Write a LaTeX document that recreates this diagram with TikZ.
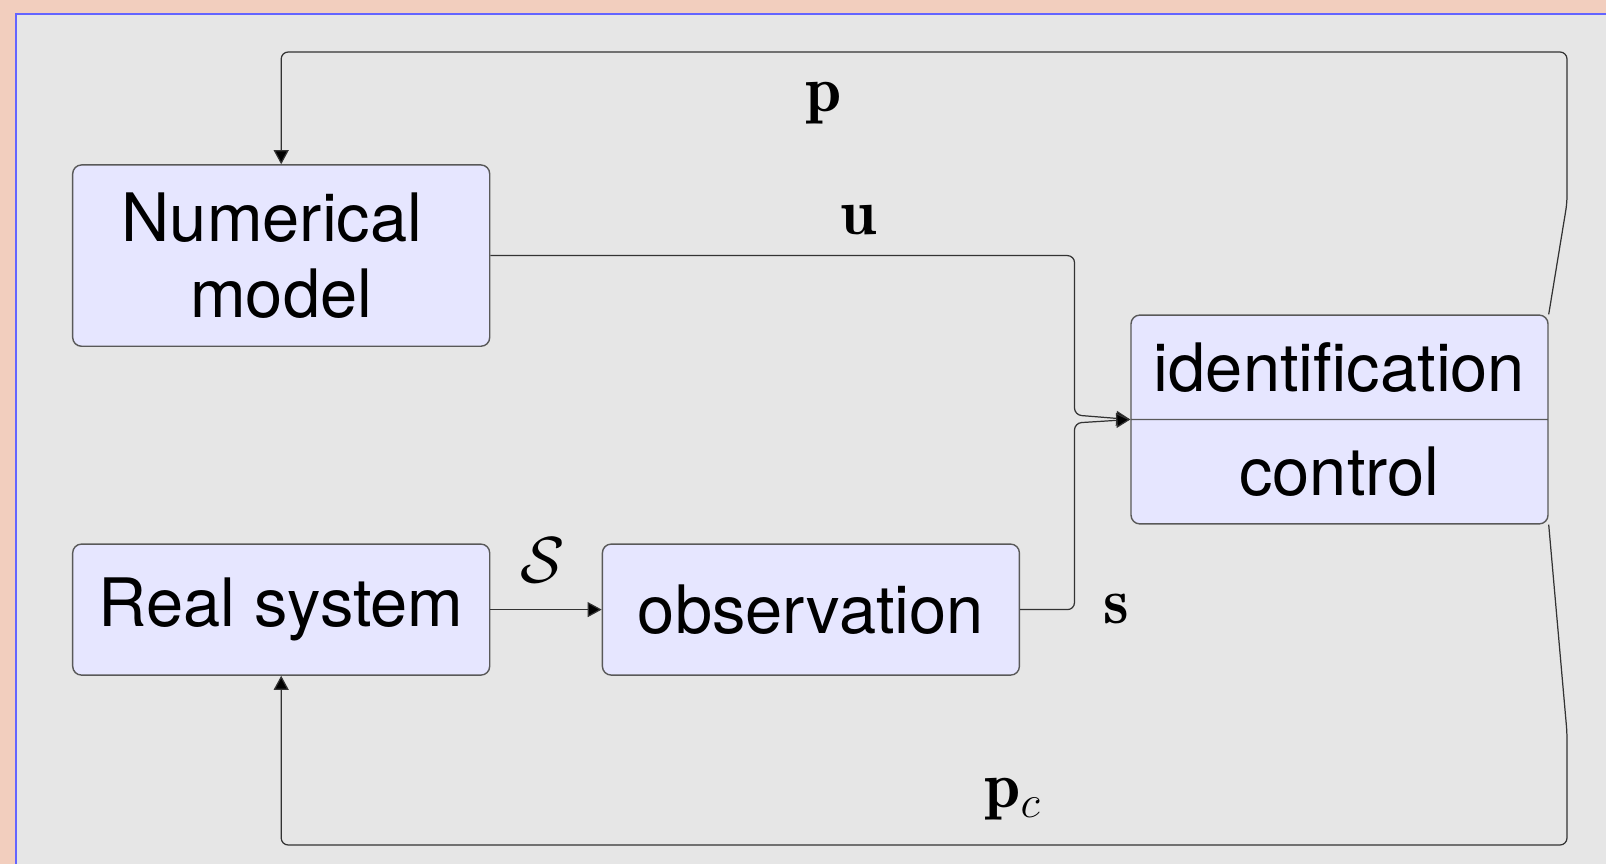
\documentclass[tikz,border=0pt]{standalone}
\usepackage{fix-cm}
\usepackage{fontspec}
\setsansfont{TeX Gyre Heros}
\usetikzlibrary{shapes.multipart,arrows.meta}
\definecolor{bgpink}{RGB}{242,206,190}
\definecolor{bggray}{RGB}{230,230,230}
\definecolor{frblue}{RGB}{100,100,255}
\definecolor{boxfill}{RGB}{230,230,255}
\newcommand{\partstrut}{\rule[-0.55cm]{0pt}{2.06cm}}
\tikzset{
    BX/.style ={rectangle,rounded corners=5pt,minimum width=8.34cm,draw=black!65,line width=0.8pt,fill=boxfill,
        font=\sffamily\fontsize{38}{43.6}\selectfont,align=center,inner sep=0pt},
    BS/.style ={rectangle split,rectangle split parts=2,rounded corners=5pt,minimum width=8.34cm,draw=black!65,
        line width=0.8pt,fill=boxfill,font=\sffamily\fontsize{38}{43.6}\selectfont,inner xsep=0pt,inner ysep=0pt},
    LB/.style ={font=\fontsize{37}{43.6}\selectfont,inner sep=0pt},
    AR/.style ={-{Triangle[length=8pt,width=8.5pt,fill=black]},draw=black!80,line width=0.7pt,rounded corners=4pt}}

\begin{document}
\begin{tikzpicture}
        \useasboundingbox (0,0) rectangle (32.12,17.28);
        \fill[bgpink] (0,0) rectangle (32.12,17.28);
        \fill[bggray] (0.32,0) rectangle (32.12,17.0);
        \draw[frblue,line width=1.1pt] (0.32,0) -- (0.32,17.0) -- (32.12,17.0);
        \node[BX,minimum height=3.626cm] (1) at (5.624,12.168){Numerical\kern0.37cm\\model};
        \node[BX,minimum height=2.62cm] (2) at (5.624,5.088){Real system};
        \node[BX,minimum height=2.62cm] (3) at (16.218,5.088){observation};
        \node[BS] (4) at (26.79,8.89){\partstrut identification\nodepart{two}\partstrut control};
        \coordinate (J1) at (21.49,8.98);
        \coordinate (J2) at (21.49,8.82);
        \coordinate (T1) at (31.34,13.22);
        \coordinate (T2) at (31.34,16.24);
        \coordinate (B1) at (31.34,2.63);
        \coordinate (B2) at (31.34,0.38);
        \draw[AR] (2) -- (3);
        \draw[AR] (1.east) -| (J1) -- (4.west);
        \draw[AR] (3.east) -| (J2) -- (4.west);
        \draw[AR] (4.north east) -- (T1) -- (T2) -| (1.north);
        \draw[AR] (4.south east) -- (B1) -- (B2) -| (2.south);
        \node[LB] (L1) at (16.47,15.22){$\mathbf{p}$};
        \node[LB] (L2) at (17.17,12.87){$\mathbf{u}$};
        \node[LB] (L3) at (22.32,5.10){$\mathbf{s}$};
        \node[LB] (L4) at (20.25,1.30){$\mathbf{p}_c$};
        \node[LB] (L5) at (10.86,6.08){$\mathcal{S}$};
    \end{tikzpicture}
\end{document}
